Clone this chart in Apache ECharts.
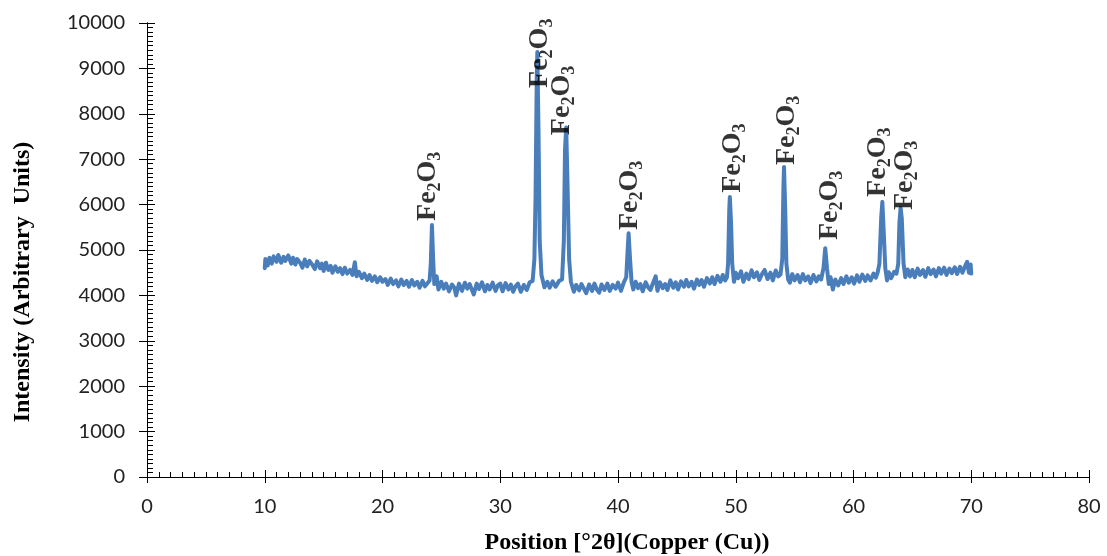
<!DOCTYPE html>
<html>
<head>
<meta charset="utf-8">
<script src="https://cdn.jsdelivr.net/npm/echarts@6/dist/echarts.min.js"></script>
<style>
  html, body { margin: 0; padding: 0; background: #fff; }
  #xrdChart { width: 1107px; height: 556px; }
</style>
</head>
<body>
<div id="xrdChart"></div>
<script>
// XRD pattern: [2theta, intensity]
const pattern = [
  [10.00,4600],[10.05,4800],[10.25,4660],[10.40,4830],[10.60,4700],[10.75,4860],[11.00,4740],[11.15,4890],[11.40,4720],[11.60,4850],
  [11.75,4760],[12.00,4880],[12.25,4700],[12.40,4830],[12.60,4680],[12.75,4800],[13.00,4720],[13.20,4610],[13.40,4790],[13.60,4640],
  [13.80,4760],[14.00,4690],[14.25,4580],[14.45,4750],[14.70,4600],[14.85,4700],[15.00,4540],[15.20,4720],[15.40,4560],[15.60,4650],
  [15.75,4500],[16.00,4640],[16.20,4520],[16.40,4600],[16.60,4470],[16.80,4610],[17.00,4480],[17.25,4560],[17.45,4450],[17.65,4730],
  [17.80,4420],[18.00,4520],[18.25,4380],[18.45,4480],[18.70,4340],[18.90,4450],[19.10,4320],[19.35,4420],[19.55,4290],[19.80,4400],
  [20.00,4300],[20.25,4360],[20.45,4230],[20.70,4370],[20.90,4250],[21.15,4330],[21.35,4200],[21.60,4350],[21.80,4230],[22.05,4320],
  [22.25,4190],[22.50,4340],[22.70,4220],[22.95,4300],[23.15,4170],[23.40,4320],[23.60,4200],[23.85,4280],[24.00,4330],[24.10,4700],
  [24.20,5550],[24.30,4800],[24.40,4250],[24.60,4420],[24.75,4130],[25.00,4300],[25.20,4150],[25.40,4260],[25.65,4090],[25.90,4240],
  [26.10,4170],[26.25,4000],[26.50,4260],[26.75,4100],[27.00,4280],[27.20,4150],[27.40,4250],[27.60,4120],[27.75,4020],[28.00,4260],
  [28.20,4140],[28.45,4290],[28.70,4090],[28.90,4230],[29.10,4130],[29.35,4280],[29.60,4100],[29.80,4220],[30.00,4260],[30.20,4090],
  [30.45,4270],[30.70,4130],[30.90,4240],[31.10,4080],[31.30,4200],[31.50,4260],[31.75,4080],[32.00,4230],[32.25,4120],[32.50,4290],
  [32.75,4320],[32.90,4800],[33.00,6200],[33.10,8800],[33.15,9360],[33.25,7600],[33.35,5200],[33.50,4450],[33.75,4180],[34.00,4300],
  [34.20,4170],[34.45,4310],[34.70,4190],[35.00,4320],[35.25,4350],[35.40,5200],[35.50,7200],[35.60,7700],[35.70,6600],[35.85,4800],
  [36.00,4300],[36.25,4080],[36.45,4230],[36.70,4110],[36.90,4250],[37.10,4150],[37.30,4050],[37.55,4240],[37.80,4100],[38.00,4260],
  [38.20,4130],[38.40,4060],[38.60,4240],[38.85,4120],[39.10,4260],[39.30,4100],[39.55,4230],[39.80,4150],[40.00,4280],[40.25,4100],
  [40.50,4290],[40.70,4400],[40.80,4900],[40.90,5370],[41.00,4900],[41.15,4300],[41.30,4130],[41.50,4300],[41.70,4160],[41.90,4250],
  [42.10,4090],[42.35,4290],[42.55,4180],[42.75,4120],[43.00,4290],[43.20,4420],[43.35,4100],[43.55,4290],[43.80,4160],[44.00,4250],
  [44.20,4120],[44.45,4330],[44.70,4170],[44.90,4290],[45.10,4130],[45.35,4310],[45.60,4190],[45.80,4340],[46.00,4200],[46.25,4300],
  [46.45,4150],[46.70,4350],[46.90,4230],[47.10,4340],[47.30,4190],[47.55,4380],[47.80,4260],[48.00,4400],[48.20,4250],[48.45,4430],
  [48.70,4300],[48.90,4450],[49.10,4330],[49.25,4400],[49.35,4700],[49.45,5900],[49.50,6170],[49.60,5600],[49.70,4700],[49.85,4300],
  [50.00,4500],[50.20,4380],[50.45,4530],[50.65,4300],[50.90,4480],[51.10,4360],[51.35,4550],[51.55,4400],[51.80,4510],[52.00,4340],
  [52.25,4480],[52.45,4560],[52.70,4360],[52.95,4500],[53.15,4330],[53.40,4550],[53.60,4420],[53.80,4460],[53.95,4800],[54.05,6400],
  [54.10,6830],[54.20,5900],[54.30,4700],[54.45,4350],[54.60,4280],[54.80,4470],[55.00,4330],[55.25,4450],[55.45,4290],[55.70,4470],
  [55.90,4330],[56.15,4420],[56.35,4270],[56.60,4450],[56.85,4310],[57.05,4420],[57.25,4350],[57.45,4600],[57.60,5040],[57.75,4600],
  [57.90,4250],[58.05,4400],[58.25,4130],[58.45,4350],[58.70,4220],[58.95,4380],[59.15,4250],[59.40,4420],[59.60,4280],[59.85,4400],
  [60.05,4260],[60.30,4440],[60.50,4300],[60.75,4460],[61.00,4320],[61.20,4440],[61.45,4330],[61.70,4480],[61.90,4390],[62.05,4500],
  [62.20,4700],[62.35,5700],[62.45,6060],[62.55,5500],[62.70,4600],[62.85,4330],[63.00,4510],[63.20,4380],[63.45,4520],[63.65,4480],
  [63.80,4700],[63.90,5600],[64.00,5925],[64.10,5700],[64.25,4700],[64.40,4400],[64.60,4570],[64.80,4420],[65.00,4560],[65.20,4400],
  [65.45,4590],[65.65,4450],[65.90,4560],[66.10,4410],[66.35,4600],[66.55,4470],[66.80,4570],[67.00,4420],[67.25,4600],[67.45,4480],
  [67.70,4610],[67.90,4450],[68.15,4590],[68.35,4490],[68.60,4620],[68.80,4470],[69.05,4630],[69.25,4500],[69.50,4660],[69.65,4740],
  [69.80,4500],[69.95,4680],[70.00,4480]
]

// where each Fe2O3 tag starts (bottom of the rotated text), in data units
const labelTheta = [23.86, 33.38, 35.24, 41.02, 49.77, 54.35, 58.0, 62.08, 64.37]
const labelIntensity = [5640, 8570, 7530, 5440, 6260, 6870, 5220, 6170, 5880]
const phaseName = '{n|Fe}{s|2}{n|O}{s|3}'

const xTitle = 'Position [°2θ](Copper (Cu))'
const yTitle = 'Intensity (Arbitrary  Units)'

const xMin = 0, xMax = 80, xStep = 10
const yMin = 0, yMax = 10000, yStep = 1000

const chart = echarts.init(document.getElementById('xrdChart'), null, { renderer: 'canvas' })

const axisFont = { fontFamily: 'Lato', fontSize: 20, color: '#222' }

let option = {
  animation: false,
  grid: { left: 147, right: 18, top: 23, bottom: 79 },
  xAxis: [
    {
      type: 'value', min: xMin, max: xMax, interval: xStep,
      axisLine: { lineStyle: { color: '#000', width: 1 } },
      axisTick: { inside: true, length: 7, lineStyle: { color: '#000' } },
      minorTick: { show: true, splitNumber: 10, length: 5, lineStyle: { color: '#000' } },
      splitLine: { show: false },
      axisLabel: Object.assign({ margin: 20 }, axisFont),
    },
    {
      // outside half of the major ticks
      type: 'value', min: xMin, max: xMax, interval: xStep, position: 'bottom',
      axisLine: { lineStyle: { color: '#000', width: 1 } },
      axisTick: { inside: false, length: 6, lineStyle: { color: '#000' } },
      splitLine: { show: false },
      axisLabel: { show: false },
    },
  ],
  yAxis: [
    {
      type: 'value', min: yMin, max: yMax, interval: yStep,
      axisLine: { show: true, lineStyle: { color: '#000', width: 1 } },
      axisTick: { show: true, inside: true, length: 8, lineStyle: { color: '#000' } },
      minorTick: { show: true, splitNumber: 10, length: 6, lineStyle: { color: '#000' } },
      splitLine: { show: false },
      axisLabel: Object.assign({ margin: 22, formatter: (v) => String(v) }, axisFont),
    },
    {
      type: 'value', min: yMin, max: yMax, interval: yStep, position: 'left',
      axisLine: { show: true, lineStyle: { color: '#000', width: 1 } },
      axisTick: { show: true, inside: false, length: 8, lineStyle: { color: '#000' } },
      splitLine: { show: false },
      axisLabel: { show: false },
    },
  ],
  graphic: [
    {
      type: 'text', x: 627, y: 543,
      style: {
        text: xTitle, fill: '#000',
        font: 'bold 24px "Liberation Serif"',
        textAlign: 'center', textVerticalAlign: 'middle',
      },
    },
    {
      type: 'text', x: 23, y: 282, rotation: Math.PI / 2,
      style: {
        text: yTitle, fill: '#000',
        font: 'bold 24px "Liberation Serif"',
        textAlign: 'center', textVerticalAlign: 'middle',
      },
    },
  ],
  series: [
    {
      name: 'XRD',
      type: 'line',
      xAxisIndex: 0,
      yAxisIndex: 0,
      data: pattern,
      showSymbol: false,
      lineStyle: { color: '#4a7ebb', width: 4, join: 'round', cap: 'round' },
      z: 2,
    },
    {
      name: 'Phase',
      type: 'scatter',
      xAxisIndex: 0,
      yAxisIndex: 0,
      symbolSize: 0,
      data: labelTheta.map((t, i) => [t, labelIntensity[i]]),
      z: 5,
      label: {
        show: true,
        position: 'inside',
        rotate: 90,
        align: 'left',
        verticalAlign: 'middle',
        formatter: phaseName,
        rich: {
          // main letters sit in the middle of a tall line, subscripts drop toward its bottom
          n: {
            fontFamily: 'Liberation Serif', fontWeight: 'bold', fontSize: 28,
            lineHeight: 46, verticalAlign: 'middle', color: '#000',
          },
          s: {
            fontFamily: 'Liberation Serif', fontWeight: 'bold', fontSize: 18,
            verticalAlign: 'bottom', padding: [0, 0, 7, 0], color: '#000',
          },
        },
      },
    },
  ],
}

chart.setOption(option, true)
</script>
</body>
</html>
